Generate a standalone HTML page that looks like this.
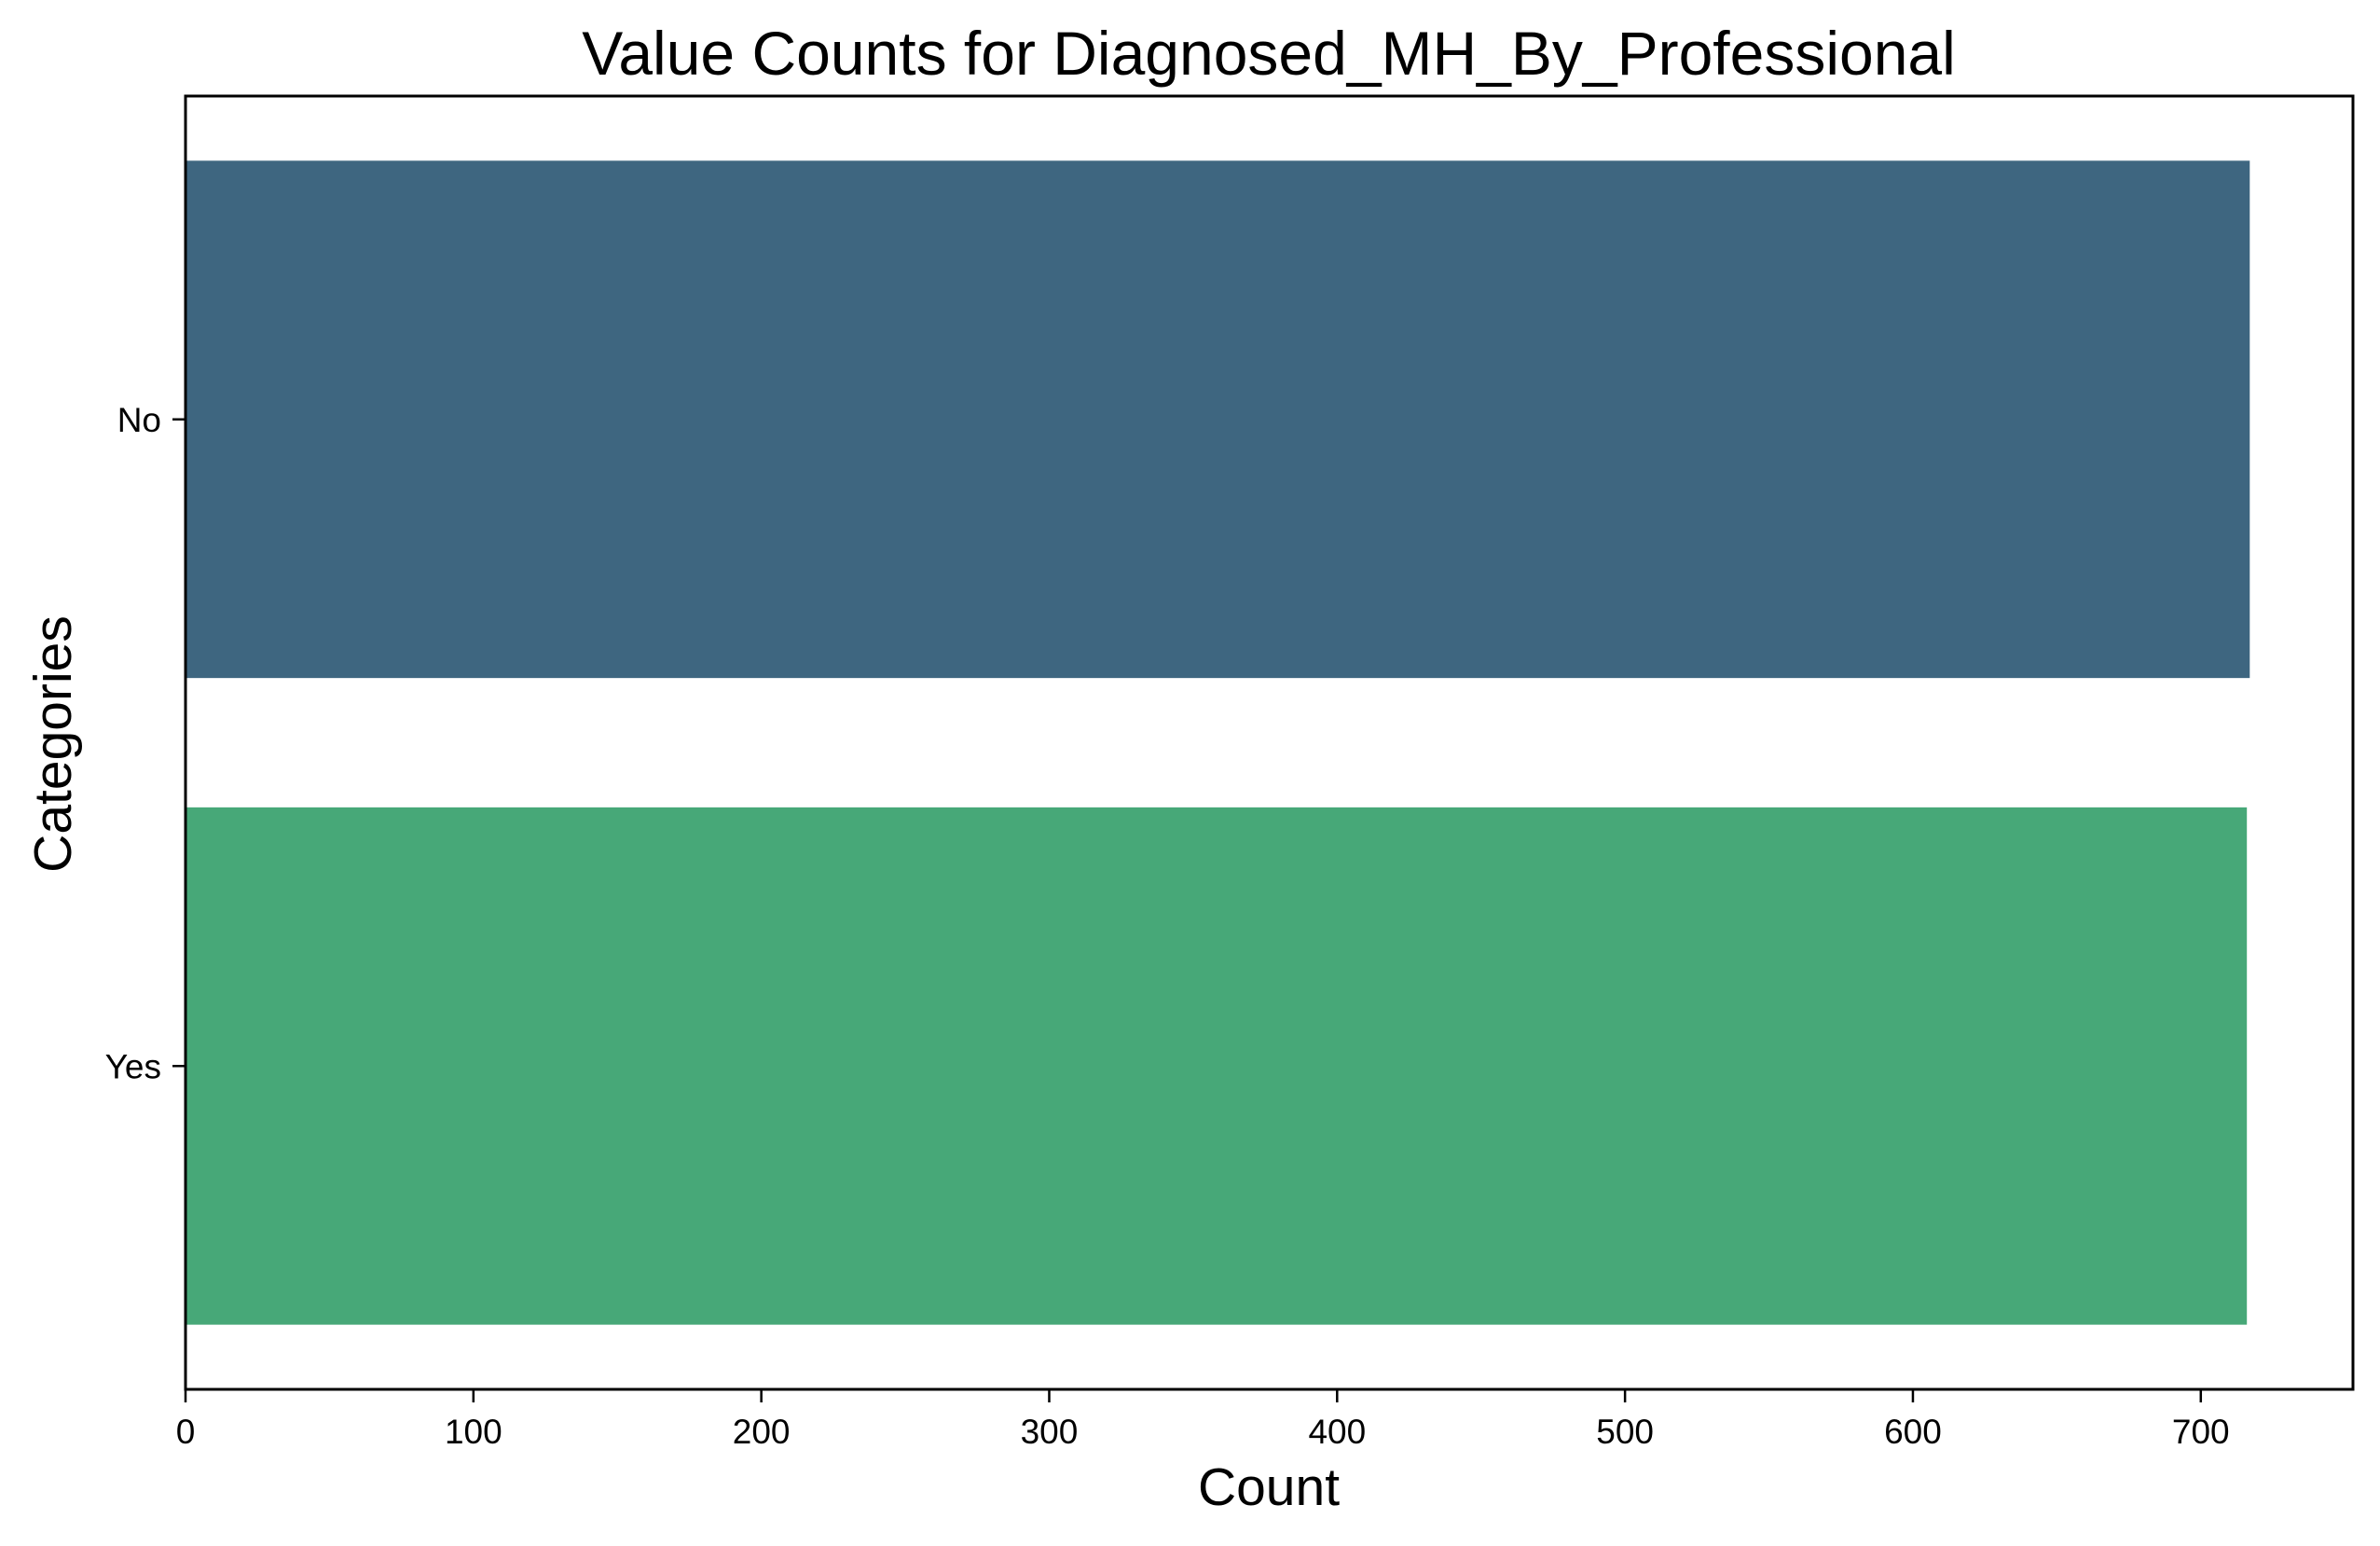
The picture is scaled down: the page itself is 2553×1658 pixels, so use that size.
<!DOCTYPE html>
<html><head><meta charset="utf-8"><style>
html,body{margin:0;padding:0;background:#fff;}
svg{display:block;font-family:"Liberation Sans",Arial,sans-serif;}
</style></head><body>
<svg id="chart" width="2553" height="1658" viewBox="0 0 2553 1658">
<rect width="2553" height="1658" fill="#fff"/>
<text x="1361" y="80" font-size="66" text-anchor="middle">Value Counts for Diagnosed_MH_By_Professional</text>
<g id="bars"></g>
<g id="xticks"></g>
<g id="yticks"></g>
<rect x="199" y="103" width="2325" height="1387" fill="none" stroke="#000" stroke-width="3"/>
<text x="1361" y="1614" font-size="57" text-anchor="middle">Count</text>
<text x="0" y="0" font-size="57" text-anchor="middle" transform="translate(76,798) rotate(-90)">Categories</text>
</svg>
<script>
const categories = ["No", "Yes"];
const counts = [717, 716];
const barColors = ["#3e6680", "#47a878"];
const xTickValues = [0, 100, 200, 300, 400, 500, 600, 700];
const xTickLabels = ["0", "100", "200", "300", "400", "500", "600", "700"];

const L = 199, R = 2524, T = 103, B = 1490;
const xMax = Math.max(...counts) * 1.05;
const ns = "http://www.w3.org/2000/svg";
function xs(v){ return L + (v / xMax) * (R - L); }
function ys(i){ return T + (i + 0.5) / categories.length * (B - T); }
const band = (B - T) / categories.length;

const gb = document.getElementById('bars');
categories.forEach((c, i) => {
  const r = document.createElementNS(ns, 'rect');
  r.setAttribute('x', L);
  r.setAttribute('y', ys(i) - band * 0.4);
  r.setAttribute('width', xs(counts[i]) - L);
  r.setAttribute('height', band * 0.8);
  r.setAttribute('fill', barColors[i]);
  
  
  gb.appendChild(r);
});

const gx = document.getElementById('xticks');
xTickValues.forEach((v, i) => {
  const x = xs(v);
  const l = document.createElementNS(ns, 'line');
  l.setAttribute('x1', x); l.setAttribute('x2', x);
  l.setAttribute('y1', B); l.setAttribute('y2', B + 14);
  l.setAttribute('stroke', '#000'); l.setAttribute('stroke-width', '2.5');
  
  
  gx.appendChild(l);
  const t = document.createElementNS(ns, 'text');
  t.setAttribute('x', x); t.setAttribute('y', B + 58);
  t.setAttribute('font-size', '37'); t.setAttribute('text-anchor', 'middle');
  t.textContent = xTickLabels[i];
  
  
  gx.appendChild(t);
});

const gy = document.getElementById('yticks');
categories.forEach((c, i) => {
  const y = ys(i);
  const l = document.createElementNS(ns, 'line');
  l.setAttribute('x1', L - 14); l.setAttribute('x2', L);
  l.setAttribute('y1', y); l.setAttribute('y2', y);
  l.setAttribute('stroke', '#000'); l.setAttribute('stroke-width', '2.5');
  
  
  gy.appendChild(l);
  const t = document.createElementNS(ns, 'text');
  t.setAttribute('x', L - 26); t.setAttribute('y', y + 13);
  t.setAttribute('font-size', '37'); t.setAttribute('text-anchor', 'end');
  t.textContent = c;
  
  
  gy.appendChild(t);
});
</script>
</body></html>
